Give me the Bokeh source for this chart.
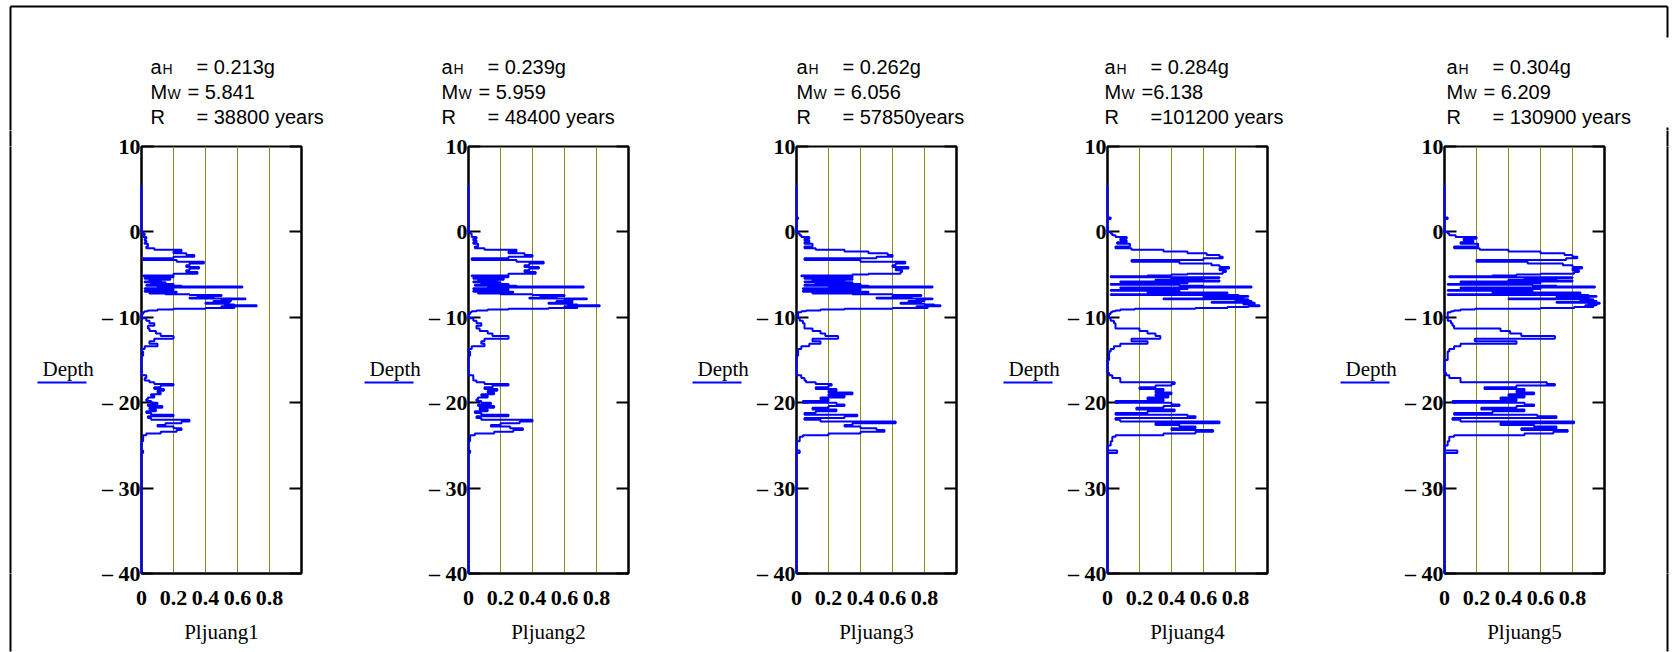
from bokeh.plotting import figure
from bokeh.layouts import row, column
from bokeh.models import FixedTicker, Range1d, LinearAxis
from bokeh.core.properties import value
from bokeh.embed import file_html
from bokeh.resources import INLINE

# ---------------- data ----------------
depth = [5.5, 2.0, 1.7, 1.5, 0.2, 0.0, -0.2, -0.4, -0.6, -0.8, -1.0, -1.2, -1.4, -1.7, -1.9,
         -2.1, -2.3, -2.5, -2.7, -2.9, -3.1, -3.3, -3.5, -3.7, -3.9, -4.1, -4.3, -4.5, -4.7, -4.9,
         -5.0, -5.1, -5.2, -5.3, -5.4, -5.5, -5.6, -5.7, -5.8, -5.9,
         -6.0, -6.1, -6.2, -6.3, -6.4, -6.5, -6.6, -6.7, -6.8, -6.9,
         -7.0, -7.1, -7.2, -7.3, -7.4, -7.5, -7.6, -7.7, -7.8, -7.9,
         -8.0, -8.1, -8.2, -8.3, -8.4, -8.5, -8.6, -8.7, -8.8, -8.9,
         -9.0, -9.1, -9.2, -9.3, -9.4,
         -9.6, -9.8, -10.1, -10.4, -10.7, -11.0, -11.3, -11.6, -11.9, -12.2, -12.5, -12.8,
         -13.1, -13.4, -13.7, -14.0, -14.5, -15.0, -16.0, -16.5, -16.8, -17.1, -17.4,
         -17.6, -17.8, -18.0, -18.2, -18.4, -18.6, -18.8, -19.0, -19.2, -19.4, -19.6, -19.8,
         -20.0, -20.2, -20.4, -20.6, -20.8, -21.0, -21.2, -21.4, -21.6, -21.8, -22.0, -22.2,
         -22.4, -22.6, -22.8, -23.0, -23.2, -23.4, -23.6, -23.8,
         -24.0, -24.5, -25.0, -25.3, -25.6, -25.9, -26.5, -40.0]

pljuang1 = [0, 0, 0, 0, 0, 0.01, 0.02, 0.01, 0.03, 0.02, 0.03, 0.02, 0.04, 0.03, 0.08,
            0.25, 0.2, 0.28, 0.33, 0.2, 0.01, 0.22, 0.39, 0.3, 0.28, 0.36, 0.3, 0.28, 0.35, 0.2,
            0.2, 0.01, 0.2, 0.12, 0.02, 0.18, 0.05, 0.12, 0.02, 0.15,
            0.06, 0.2, 0.03, 0.25, 0.63, 0.1, 0.02, 0.2, 0.12, 0.02,
            0.22, 0.05, 0.15, 0.3, 0.5, 0.35, 0.45, 0.3, 0.65, 0.5,
            0.56, 0.45, 0.55, 0.4, 0.52, 0.58, 0.72, 0.5, 0.58, 0.4,
            0.2, 0.1, 0.04, 0.02, 0.01,
            0, 0, 0.03, 0.05, 0.08, 0.04, 0.05, 0.09, 0.12, 0.2, 0.08, 0.05,
            0.1, 0.02, 0, 0.01, 0, 0, 0, 0, 0.03, 0.02, 0.05,
            0.08, 0.2, 0.12, 0.08, 0.14, 0.1, 0.12, 0.06, 0.08, 0.04, 0.03, 0.06,
            0.1, 0.04, 0.13, 0.05, 0.09, 0.03, 0.06, 0.2, 0.04, 0.06, 0.3, 0.25,
            0.15, 0.1, 0.2, 0.25, 0.22, 0.12, 0.03, 0.01,
            0.01, 0, 0, 0, 0.01, 0, 0, 0]

pljuang2 = [0, 0, 0, 0, 0, 0.01, 0.02, 0.02, 0.05, 0.03, 0.05, 0.03, 0.06, 0.04, 0.1,
            0.3, 0.25, 0.35, 0.4, 0.25, 0.02, 0.3, 0.47, 0.38, 0.35, 0.44, 0.38, 0.35, 0.42, 0.25,
            0.25, 0.02, 0.25, 0.15, 0.03, 0.22, 0.06, 0.18, 0.03, 0.2,
            0.08, 0.25, 0.04, 0.3, 0.72, 0.12, 0.03, 0.25, 0.15, 0.03,
            0.28, 0.06, 0.2, 0.4, 0.6, 0.45, 0.55, 0.38, 0.74, 0.6,
            0.65, 0.55, 0.65, 0.5, 0.62, 0.68, 0.82, 0.6, 0.68, 0.5,
            0.25, 0.12, 0.05, 0.02, 0.01,
            0, 0, 0.03, 0.05, 0.08, 0.05, 0.07, 0.12, 0.15, 0.25, 0.1, 0.08,
            0.1, 0.02, 0, 0.01, 0, 0, 0, 0, 0.03, 0.03, 0.05,
            0.1, 0.25, 0.15, 0.1, 0.18, 0.12, 0.16, 0.08, 0.12, 0.06, 0.05, 0.08,
            0.14, 0.06, 0.16, 0.07, 0.12, 0.04, 0.08, 0.25, 0.05, 0.08, 0.4, 0.32,
            0.2, 0.14, 0.26, 0.34, 0.28, 0.16, 0.04, 0.01,
            0.01, 0, 0, 0, 0.01, 0, 0, 0]

pljuang3 = [0, 0, 0.01, 0, 0, 0.01, 0.02, 0.03, 0.08, 0.05, 0.08, 0.05, 0.1, 0.05, 0.12,
            0.3, 0.45, 0.57, 0.6, 0.5, 0.05, 0.4, 0.68, 0.62, 0.6, 0.7, 0.62, 0.66, 0.65, 0.45,
            0.35, 0.03, 0.35, 0.2, 0.05, 0.35, 0.1, 0.3, 0.05, 0.35,
            0.12, 0.4, 0.05, 0.45, 0.85, 0.2, 0.04, 0.4, 0.25, 0.04,
            0.45, 0.1, 0.35, 0.6, 0.78, 0.6, 0.72, 0.5, 0.85, 0.75,
            0.8, 0.7, 0.78, 0.65, 0.8, 0.86, 0.9, 0.75, 0.82, 0.6,
            0.3, 0.15, 0.06, 0.03, 0.01,
            0.01, 0.01, 0.02, 0.04, 0.05, 0.05, 0.1, 0.15, 0.18, 0.26, 0.1, 0.15,
            0.08, 0.03, 0.01, 0.01, 0, 0, 0, 0, 0.03, 0.05, 0.06,
            0.12, 0.22, 0.2, 0.12, 0.25, 0.2, 0.35, 0.2, 0.3, 0.15, 0.2, 0.04,
            0.25, 0.3, 0.2, 0.1, 0.25, 0.12, 0.05, 0.38, 0.3, 0.05, 0.15, 0.62,
            0.35, 0.3, 0.4, 0.5, 0.55, 0.4, 0.2, 0.04,
            0.02, 0, 0, 0, 0.02, 0, 0, 0]

pljuang4 = [0, 0, 0.02, 0, 0, 0.02, 0.03, 0.05, 0.12, 0.08, 0.12, 0.06, 0.14, 0.05, 0.15,
            0.35, 0.5, 0.62, 0.7, 0.72, 0.6, 0.15, 0.45, 0.65, 0.7, 0.76, 0.7, 0.74, 0.72, 0.5,
            0.4, 0.25, 0.02, 0.7, 0.4, 0.6, 0.3, 0.7, 0.08, 0.5,
            0.25, 0.02, 0.45, 0.6, 0.9, 0.08, 0.5, 0.35, 0.02, 0.45,
            0.25, 0.75, 0.5, 0.02, 0.82, 0.88, 0.6, 0.85, 0.35, 0.88,
            0.8, 0.9, 0.65, 0.92, 0.85, 0.9, 0.95, 0.88, 0.75, 0.55,
            0.17, 0.08, 0.05, 0.03, 0.02,
            0.01, 0.01, 0.02, 0.04, 0.05, 0.05, 0.2, 0.25, 0.3, 0.33, 0.15, 0.25,
            0.08, 0.04, 0.02, 0.01, 0.01, 0, 0, 0.01, 0.03, 0.08, 0.08,
            0.42, 0.4, 0.3, 0.2, 0.35, 0.3, 0.4, 0.3, 0.38, 0.25, 0.35, 0.05,
            0.4, 0.45, 0.35, 0.18, 0.42, 0.25, 0.05, 0.5, 0.55, 0.05, 0.08, 0.7,
            0.3, 0.45, 0.55, 0.4, 0.66, 0.55, 0.35, 0.05,
            0.03, 0.02, 0, 0, 0.06, 0, 0, 0]

pljuang5 = [0, 0, 0.02, 0, 0, 0.02, 0.03, 0.07, 0.2, 0.12, 0.18, 0.1, 0.21, 0.06, 0.22,
            0.4, 0.6, 0.75, 0.8, 0.83, 0.76, 0.2, 0.52, 0.74, 0.8, 0.86, 0.8, 0.84, 0.81, 0.6,
            0.45, 0.3, 0.03, 0.8, 0.5, 0.7, 0.4, 0.8, 0.1, 0.6,
            0.3, 0.02, 0.55, 0.7, 0.94, 0.1, 0.6, 0.4, 0.02, 0.55,
            0.3, 0.85, 0.6, 0.02, 0.9, 0.95, 0.7, 0.9, 0.4, 0.93,
            0.85, 0.95, 0.7, 0.97, 0.9, 0.95, 0.88, 0.93, 0.81, 0.6,
            0.19, 0.1, 0.06, 0.04, 0.02,
            0.02, 0.02, 0.02, 0.04, 0.05, 0.06, 0.35, 0.41, 0.48, 0.69, 0.19, 0.45,
            0.1, 0.06, 0.03, 0.02, 0.02, 0, 0, 0.01, 0.03, 0.1, 0.1,
            0.64, 0.69, 0.45, 0.25, 0.5, 0.45, 0.56, 0.4, 0.5, 0.35, 0.45, 0.05,
            0.5, 0.56, 0.45, 0.23, 0.5, 0.3, 0.06, 0.58, 0.7, 0.05, 0.1, 0.81,
            0.35, 0.56, 0.7, 0.48, 0.77, 0.68, 0.5, 0.06,
            0.03, 0.02, 0, 0, 0.08, 0, 0, 0]

series = [pljuang1, pljuang2, pljuang3, pljuang4, pljuang5]
series_names = ["Pljuang1", "Pljuang2", "Pljuang3", "Pljuang4", "Pljuang5"]
a_h_text = ["= 0.213g", "= 0.239g", "= 0.262g", "= 0.284g", "= 0.304g"]
m_w_text = ["= 5.841", "= 5.959", "= 6.056", "=6.138", "= 6.209"]
r_text = ["= 38800 years", "= 48400 years", "= 57850years", "=101200 years", "= 130900 years"]

x_ticks = [0, 0.2, 0.4, 0.6, 0.8]
grid_ticks = [0.2, 0.4, 0.6, 0.8]
y_ticks = [10, 0, -10, -20, -30, -40]
y_tick_labels = {10: "10", 0: "0", -10: "\u2013 10", -20: "\u2013 20", -30: "\u2013 30", -40: "\u2013 40"}

# ---------------- layout (pixels) ----------------
W_TOTAL = 1676
H_TOTAL = 652
TOP_H = 130                      # height of title strip
FRAME_TOP = 146
FRAME_W = 161
FRAME_H = 427
FRAME_BOT = FRAME_TOP + FRAME_H
frame_left = [140, 467, 795, 1106, 1443]
title_left = [150, 441, 796, 1104, 1446]
LEG_W = 98                       # strip left of each plot holding "Depth"
AX_W = 42                        # left border of plot for tick labels
M_TOP = FRAME_TOP - TOP_H
M_BOTTOM = H_TOTAL - FRAME_BOT
BOT_H = H_TOTAL - TOP_H
LAST_END = 1634
BORDER_L = 10
BORDER_R = 1667
SERIF = "Liberation Serif"
SANS = "Liberation Sans"
BLUE = "#0000ff"
OLIVE = "#8a8a1a"

assert all(len(s) == len(depth) for s in series)


def blank(w, h, x0, y0, y1, top=0, bottom=0):
    """Empty canvas whose ranges are page pixels (y downwards)."""
    p = figure(width=w, height=h, x_range=Range1d(x0, x0 + w), y_range=Range1d(y1, y0),
               output_backend="svg", toolbar_location=None,
               x_axis_location=None, y_axis_location=None,
               min_border_left=0, min_border_right=0,
               min_border_top=top, min_border_bottom=bottom)
    p.grid.visible = False
    p.outline_line_color = None
    p.background_fill_color = "white"
    p.border_fill_color = "white"
    return p


def edge_ticks(p, xpos, top_len, bottom_len):
    """Continue a vertical page-border line through the plot's top/bottom borders."""
    for loc, ln in (("above", top_len), ("below", bottom_len)):
        ax = LinearAxis(ticker=FixedTicker(ticks=[xpos]), major_tick_in=0, major_tick_out=ln,
                        major_tick_line_width=2, major_tick_line_color="black",
                        minor_tick_line_color=None, axis_line_color=None,
                        major_label_text_font_size="0px", major_label_standoff=0,
                        major_label_text_color=None)
        p.add_layout(ax, loc)


# ---- title strip ----
top = blank(W_TOTAL, TOP_H, 0, 0, TOP_H)
b1, b2, b3 = 66, 91, 116
tx = title_left
common = dict(text_font=value(SANS), text_baseline="alphabetic", text_color="black")
top.text(x=tx, y=[b1] * 5, text=["a"] * 5, text_font_size="20px", **common)
top.text(x=[v + 12 for v in tx], y=[b1 + 2] * 5, text=["H"] * 5, text_font_size="14px", **common)
top.text(x=[v + 46 for v in tx], y=[b1] * 5, text=a_h_text, text_font_size="20px", **common)
top.text(x=tx, y=[b2] * 5, text=["M"] * 5, text_font_size="20px", **common)
top.text(x=[v + 17 for v in tx], y=[b2 + 2] * 5, text=["W"] * 5, text_font_size="14px", **common)
top.text(x=[v + 37 for v in tx], y=[b2] * 5, text=m_w_text, text_font_size="20px", **common)
top.text(x=tx, y=[b3] * 5, text=["R"] * 5, text_font_size="20px", **common)
top.text(x=[v + 46 for v in tx], y=[b3] * 5, text=r_text, text_font_size="20px", **common)
# outer frame (top, left, right with gap)
top.segment(x0=[BORDER_L, BORDER_L, BORDER_R, BORDER_R], y0=[6, 6, 6, 127],
            x1=[BORDER_R, BORDER_L, BORDER_R, BORDER_R], y1=[6, TOP_H, 37, TOP_H],
            line_color="black", line_width=2)

# ---- bottom row ----
children = []
for i in range(5):
    lx0 = frame_left[i] - AX_W - LEG_W
    leg = blank(LEG_W, BOT_H, lx0, FRAME_TOP, FRAME_BOT, top=M_TOP, bottom=M_BOTTOM)
    leg.text(x=[lx0 + 42], y=[368], text=["Depth"], text_font=value(SERIF),
             text_font_size="21px", text_baseline="alphabetic", text_color="black")
    leg.segment(x0=[lx0 + 37], y0=[382], x1=[lx0 + 86], y1=[382], line_color=BLUE, line_width=2)
    if i == 0:
        leg.segment(x0=[BORDER_L], y0=[FRAME_TOP], x1=[BORDER_L], y1=[FRAME_BOT],
                    line_color="black", line_width=2)
        edge_ticks(leg, BORDER_L, M_TOP, M_BOTTOM - 1)
    children.append(leg)

    start = frame_left[i] - AX_W
    end = frame_left[i + 1] - LEG_W - AX_W if i < 4 else LAST_END
    w = end - start
    p = figure(width=w, height=BOT_H, x_range=Range1d(0, 1), y_range=Range1d(-40, 10),
               output_backend="svg", toolbar_location=None,
               min_border_left=AX_W, min_border_right=w - AX_W - FRAME_W,
               min_border_top=M_TOP, min_border_bottom=M_BOTTOM)
    p.background_fill_color = "white"
    p.border_fill_color = "white"
    p.outline_line_color = "black"
    p.outline_line_width = 2

    p.xgrid.ticker = FixedTicker(ticks=grid_ticks)
    p.xgrid.grid_line_color = OLIVE
    p.xgrid.grid_line_width = 1
    p.ygrid.grid_line_color = None

    xa = p.xaxis[0]
    xa.ticker = FixedTicker(ticks=x_ticks)
    xa.major_label_overrides = {0: "0", 0.2: "0.2", 0.4: "0.4", 0.6: "0.6", 0.8: "0.8"}
    xa.major_tick_in = 0
    xa.major_tick_out = 0
    xa.minor_tick_line_color = None
    xa.axis_line_color = "black"
    xa.axis_line_width = 2
    xa.major_label_text_font = SERIF
    xa.major_label_text_font_style = "bold"
    xa.major_label_text_font_size = "22px"
    xa.major_label_text_color = "black"
    xa.major_label_standoff = 17
    xa.axis_label = series_names[i]
    xa.axis_label_text_font = SERIF
    xa.axis_label_text_font_style = "normal"
    xa.axis_label_text_font_size = "21px"
    xa.axis_label_text_color = "black"
    xa.axis_label_standoff = 12

    ya = p.yaxis[0]
    ya.ticker = FixedTicker(ticks=y_ticks)
    ya.major_label_overrides = y_tick_labels
    ya.major_tick_in = 12
    ya.major_tick_out = 0
    ya.major_tick_line_width = 2
    ya.minor_tick_line_color = None
    ya.axis_line_color = "black"
    ya.axis_line_width = 2
    ya.major_label_text_font = SERIF
    ya.major_label_text_font_style = "bold"
    ya.major_label_text_font_size = "22px"
    ya.major_label_text_color = "black"
    ya.major_label_standoff = 1

    ra = LinearAxis(ticker=FixedTicker(ticks=y_ticks), major_tick_in=12, major_tick_out=0,
                    major_tick_line_width=2, minor_tick_line_color=None,
                    axis_line_color="black", axis_line_width=2,
                    major_label_text_font_size="0px", major_label_text_color=None)
    p.add_layout(ra, "right")

    # step profile: each value holds down to the next sample depth
    vals = series[i]
    sx, sy = [], []
    for k in range(len(depth) - 1):
        sx += [vals[k], vals[k]]
        sy += [depth[k], depth[k + 1]]
    p.line(sx, sy, line_color=BLUE, line_width=2, level="overlay")
    children.append(p)

# right strip with outer frame line
rs = blank(W_TOTAL - LAST_END, BOT_H, LAST_END, FRAME_TOP, FRAME_BOT, top=M_TOP, bottom=M_BOTTOM)
rs.segment(x0=[BORDER_R], y0=[FRAME_TOP], x1=[BORDER_R], y1=[FRAME_BOT], line_color="black", line_width=2)
edge_ticks(rs, BORDER_R, M_TOP, M_BOTTOM - 1)
children.append(rs)

layout = column(top, row(*children, spacing=0), spacing=0)
open("out.html", "w").write(file_html(layout, INLINE))
